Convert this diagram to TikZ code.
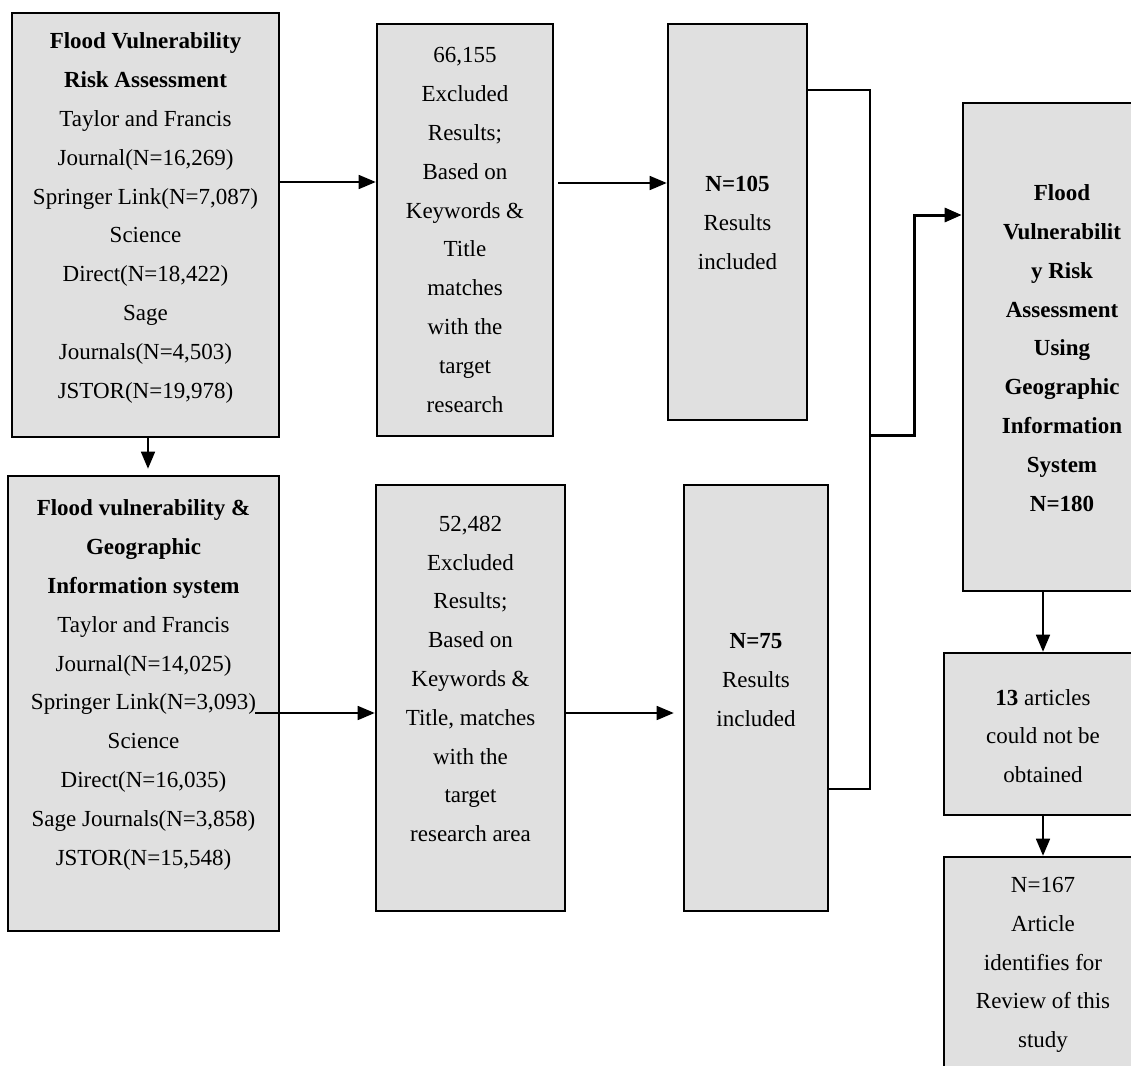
\documentclass[tikz,border=0pt]{standalone}
\usepackage{fontspec}
\setmainfont{Liberation Serif}
\usetikzlibrary{arrows.meta}
\definecolor{boxgray}{RGB}{224,224,224}
\begin{document}
\begin{tikzpicture}[x=1pt,y=-1pt,
  box/.style={draw=black, line width=2.6pt, fill=boxgray, inner sep=0pt},
  txt/.style={align=center, inner sep=0pt, font={\fontsize{23}{38.8}\selectfont}},
  conn/.style={line width=1.6pt},
  arr/.style={line width=1.6pt, -{Triangle[length=17pt,width=14pt]}},
  ]
\clip (0,0) rectangle (1131,1065);
\fill[white] (0,0) rectangle (1131,1065);

% boxes
\node[box, minimum width=267pt, minimum height=424pt] (A) at (145.5,225) {};
\node[box, minimum width=271pt, minimum height=455pt] (B) at (143.5,703.5) {};
\node[box, minimum width=176pt, minimum height=412pt] (C) at (465,230) {};
\node[box, minimum width=189pt, minimum height=426pt] (D) at (470.5,698) {};
\node[box, minimum width=139pt, minimum height=396pt] (E) at (737.5,222) {};
\node[box, minimum width=144pt, minimum height=426pt] (F) at (756,698) {};
\node[box, minimum width=182pt, minimum height=488pt] (G) at (1054,347) {};
\node[box, minimum width=201pt, minimum height=162pt] (H) at (1044.5,734) {};
\node[box, minimum width=201pt, minimum height=228pt] (I) at (1044.5,971) {};

% texts
\node[txt] (At) at (145.5,218) {\textbf{Flood Vulnerability}\\\textbf{Risk Assessment}\\Taylor and Francis\\Journal(N=16,269)\\Springer Link(N=7,087)\\Science\\Direct(N=18,422)\\Sage\\Journals(N=4,503)\\JSTOR(N=19,978)};
\node[txt] (Bt) at (143.5,685) {\textbf{Flood vulnerability \&}\\\textbf{Geographic}\\\textbf{Information system}\\Taylor and Francis\\Journal(N=14,025)\\Springer Link(N=3,093)\\Science\\Direct(N=16,035)\\Sage Journals(N=3,858)\\JSTOR(N=15,548)};
\node[txt] (Ct) at (465,230) {66,155\\Excluded\\Results;\\Based on\\Keywords \&\\Title\\matches\\with the\\target\\research};
\node[txt] (Dt) at (470.5,679) {52,482\\Excluded\\Results;\\Based on\\Keywords \&\\Title, matches\\with the\\target\\research area};
\node[txt] (Et) at (737.5,223) {\textbf{N=105}\\Results\\included};
\node[txt] (Ft) at (756,680) {\textbf{N=75}\\Results\\included};
\node[txt] (Gt) at (1062,348) {\textbf{Flood}\\\textbf{Vulnerabilit}\\\textbf{y Risk}\\\textbf{Assessment}\\\textbf{Using}\\\textbf{Geographic}\\\textbf{Information}\\\textbf{System}\\\textbf{N=180}};
\node[txt] (Ht) at (1043,736) {\textbf{13} articles\\could not be\\obtained};
\node[txt] (It) at (1043,965) {N=167\\Article\\identifies for\\Review of this\\study};

% helper coordinates
\coordinate (xab) at (148,0);
\coordinate (y182) at (0,182);
\coordinate (y183) at (0,183);
\coordinate (y713) at (0,713);
\coordinate (y90) at (0,90);
\coordinate (y789) at (0,789);
\coordinate (y215) at (0,215);
\coordinate (Bs) at (255,713);
\coordinate (J) at (870,435);
\coordinate (K) at (914,435);
\coordinate (xgh) at (1043,0);

% connectors
\draw[arr, shorten >=6pt] (A.south -| xab) -- (B.north -| xab);
\draw[arr] (A.east |- y182) -- (C.west |- y182);
\draw[arr] ([xshift=4pt]C.east |- y183) -- (E.west |- y183);
\draw[arr] (Bs) -- (D.west |- Bs);
\draw[arr, shorten >=9pt] (D.east |- y713) -- (F.west |- y713);
\draw[conn] (E.east |- y90) -| (J) -- (J |- y789) -- (F.east |- y789);
\draw[arr, line width=3pt] (J) -- (K) -- (K |- y215) -- (G.west |- y215);
\draw[arr] (G.south -| xgh) -- (H.north -| xgh);
\draw[arr] (H.south -| xgh) -- (I.north -| xgh);
\end{tikzpicture}
\end{document}
